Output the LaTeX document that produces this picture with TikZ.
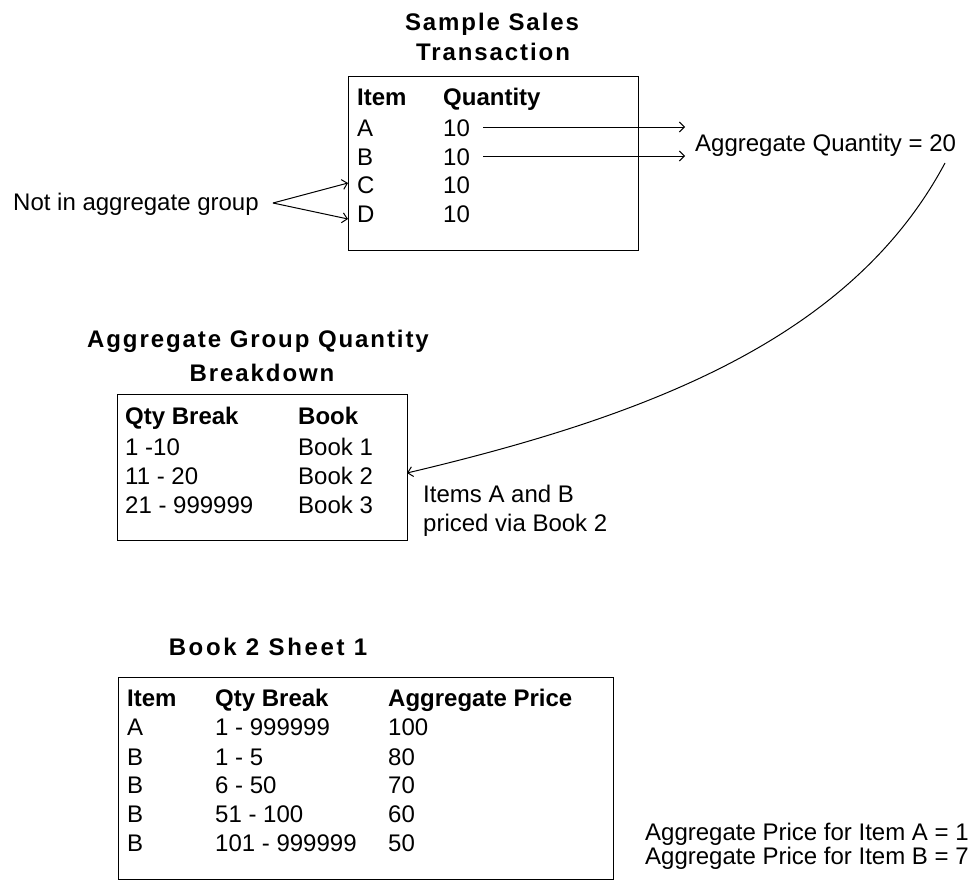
\documentclass[tikz,border=0pt]{standalone}
\usepackage{fontspec}
\setmainfont{Liberation Sans}
\usetikzlibrary{arrows.meta}
\begin{document}
\begin{tikzpicture}[x=1pt,y=-1pt,
  txt/.style={anchor=base west, inner sep=0pt, font=\fontsize{24}{28}\selectfont},
  hdr/.style={anchor=base west, inner sep=0pt, font=\fontsize{24}{28}\selectfont\bfseries},
  ttl/.style={anchor=base, inner sep=0pt, font=\fontsize{24}{28}\selectfont\bfseries\addfontfeature{LetterSpace=8}},
  frame/.style={draw, line width=1pt, anchor=north west, inner sep=0pt},
  conn/.style={line width=1pt, -{Straight Barb[length=5pt,width=10pt]}}
]
\useasboundingbox (0,0) rectangle (972,883);

% ---------- Sample Sales Transaction ----------
\node[ttl] (t1a) at (492,30.5) {Sample Sales};
\node[ttl] (t1b) at (493,60.5) {Transaction};
\node[frame, minimum width=290pt, minimum height=174pt] (box1) at (348,76) {};
\node[hdr] (h1a) at (357,106) {Item};
\node[hdr] (h1b) at (443,106) {Quantity};
\node[txt] (r1a) at (357,136.5) {A};
\node[txt] (q1a) at (443,136.5) {10};
\node[txt] (r1b) at (357,165) {B};
\node[txt] (q1b) at (443,165) {10};
\node[txt] (r1c) at (357,193.5) {C};
\node[txt] (q1c) at (443,193.5) {10};
\node[txt] (r1d) at (357,222) {D};
\node[txt] (q1d) at (443,222) {10};

\node[txt] (agq) at (695,151.5) {Aggregate Quantity = 20};
\coordinate (aA) at (483,127);
\coordinate (aAe) at (685,127);
\coordinate (aB) at (483,156);
\coordinate (aBe) at (685,156);
\draw[conn] (aA) -- (aAe);
\draw[conn] (aB) -- (aBe);

\node[txt] (nag) at (13,210.5) {Not in aggregate group};
\coordinate (ns) at (273,203);
\coordinate (nC) at (348,183);
\coordinate (nD) at (348,219);
\draw[conn] (ns) -- (nC);
\draw[conn] (ns) -- (nD);

% ---------- Aggregate Group Quantity Breakdown ----------
\node[ttl] (t2a) at (258,347) {Aggregate Group Quantity};
\node[ttl] (t2b) at (262,381.5) {Breakdown};
\node[frame, minimum width=290pt, minimum height=146pt] (box2) at (117,394) {};
\node[hdr] (h2a) at (125,424.5) {Qty Break};
\node[hdr] (h2b) at (298,424.5) {Book};
\node[txt] (r2a) at (125,455) {1 -10};
\node[txt] (b2a) at (298,455) {Book 1};
\node[txt] (r2b) at (125,484) {11 - 20};
\node[txt] (b2b) at (298,484) {Book 2};
\node[txt] (r2c) at (125,513) {21 - 999999};
\node[txt] (b2c) at (298,513) {Book 3};

\node[txt] (iab) at (423,502.5) {Items A and B};
\node[txt] (pvb) at (423,531) {priced via Book 2};

\coordinate (cs) at (945,163);
\coordinate (ce) at (407,473);
\draw[conn] (cs) .. controls (851,339) and (648,416) .. (ce);

% ---------- Book 2 Sheet 1 ----------
\node[ttl, font=\fontsize{24}{28}\selectfont\bfseries\addfontfeature{LetterSpace=11}] (t3) at (268,655.5) {Book 2 Sheet 1};
\node[frame, minimum width=495pt, minimum height=202pt] (box3) at (118,677) {};
\node[hdr] (h3a) at (127,706.5) {Item};
\node[hdr] (h3b) at (215,706.5) {Qty Break};
\node[hdr] (h3c) at (388,706.5) {Aggregate Price};
\node[txt] (i3a) at (127,735.5) {A};
\node[txt] (k3a) at (215,735.5) {1 - 999999};
\node[txt] (p3a) at (388,735.5) {100};
\node[txt] (i3b) at (127,765) {B};
\node[txt] (k3b) at (215,765) {1 - 5};
\node[txt] (p3b) at (388,765) {80};
\node[txt] (i3c) at (127,793.5) {B};
\node[txt] (k3c) at (215,793.5) {6 - 50};
\node[txt] (p3c) at (388,793.5) {70};
\node[txt] (i3d) at (127,822) {B};
\node[txt] (k3d) at (215,822) {51 - 100};
\node[txt] (p3d) at (388,822) {60};
\node[txt] (i3e) at (127,851) {B};
\node[txt] (k3e) at (215,851) {101 - 999999};
\node[txt] (p3e) at (388,851) {50};

\node[txt, align=left, font=\fontsize{24}{20.5}\selectfont] (apr) at (645,864) {Aggregate Price for Item A = 1\\Aggregate Price for Item B = 7};
\end{tikzpicture}
\end{document}
